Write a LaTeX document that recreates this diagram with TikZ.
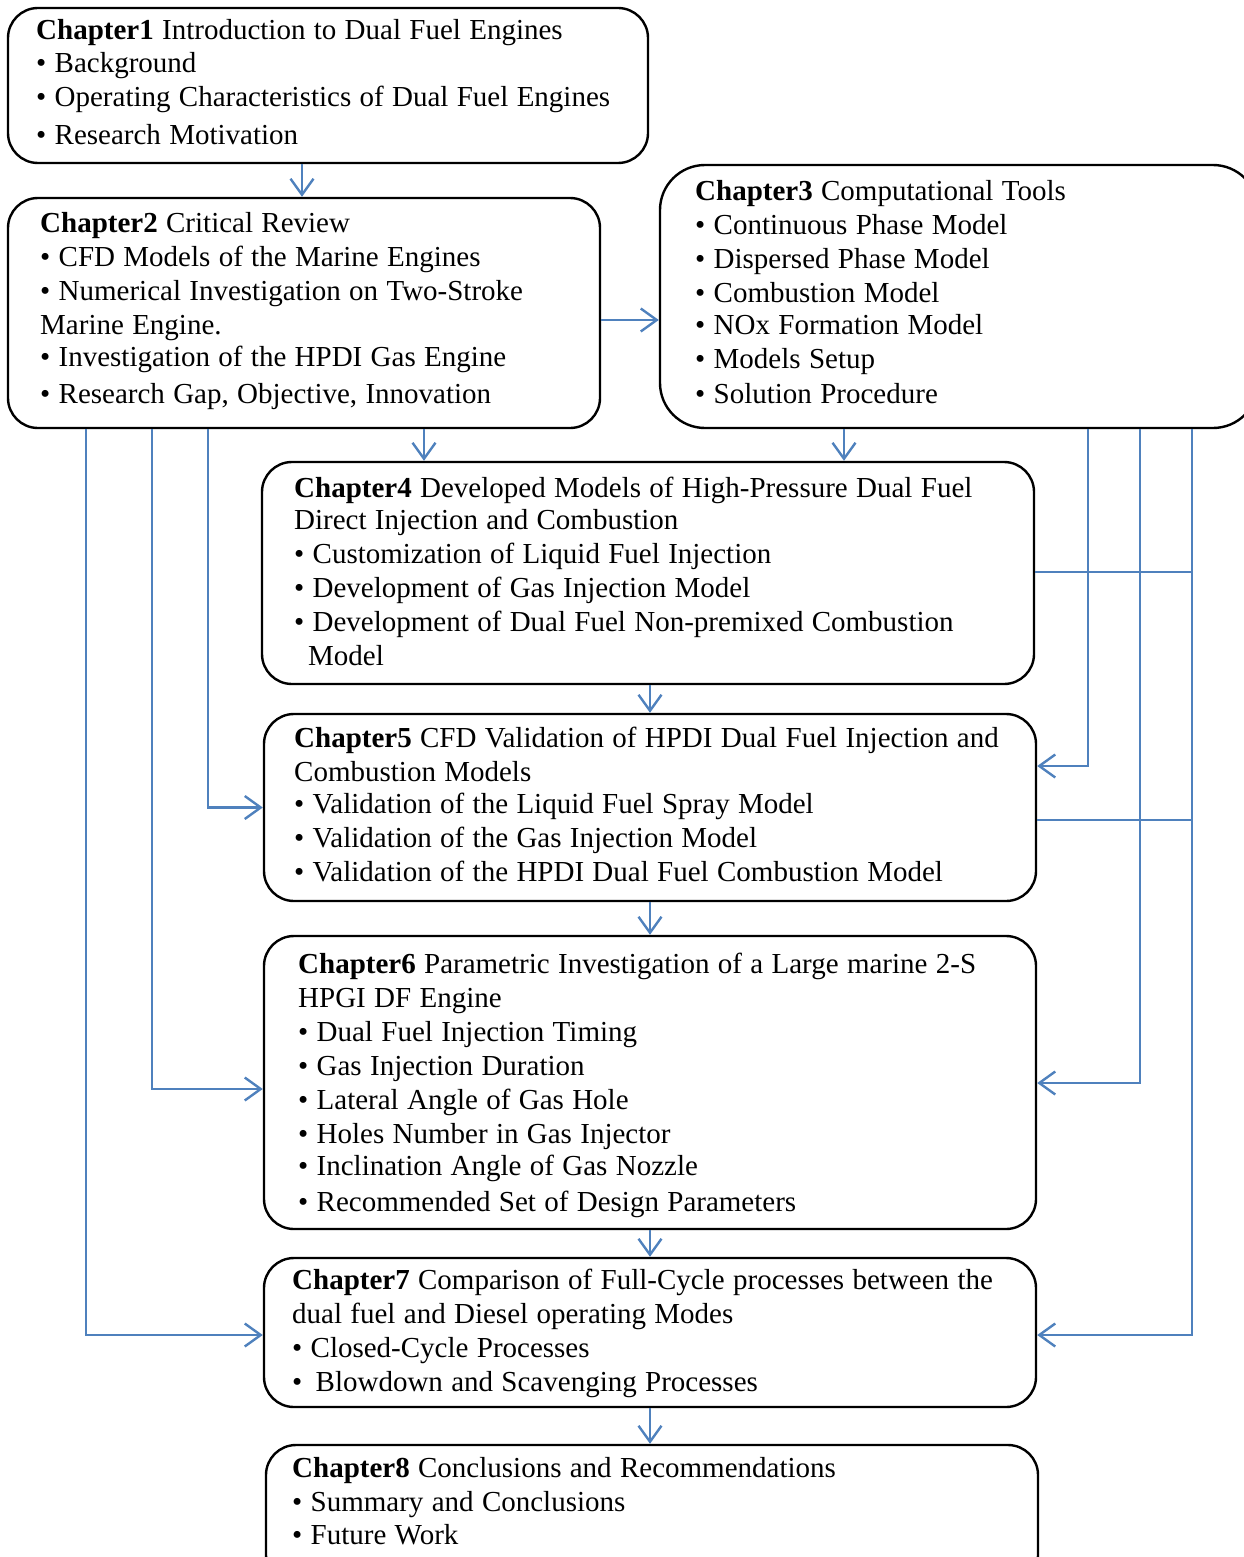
\documentclass[tikz,border=0pt]{standalone}
\usepackage{fontspec}
\setmainfont[WordSpace=1.15]{Liberation Serif}
\usetikzlibrary{arrows.meta}
\definecolor{lineblue}{RGB}{79,129,189}
\begin{document}
\begin{tikzpicture}[x=1pt,y=-1pt,
  box/.style={draw=black, line width=2.4pt, rounded corners=30pt, inner sep=0pt, rectangle},
  txt/.style={anchor=north west, inner sep=0pt, align=left, font=\fontsize{29}{34}\selectfont},
  conn/.style={draw=lineblue, line width=2.4pt},
  arr/.style={conn, -{Straight Barb[length=16pt,width=23pt]}},
]
\useasboundingbox (0,0) rectangle (1243,1557);

% boxes
\node[box, minimum width=640pt, minimum height=155pt] (c1) at (328,85.5) {};
\node[box, minimum width=592pt, minimum height=230pt] (c2) at (304,313) {};
\node[box, minimum width=598pt, minimum height=263pt, rounded corners=45pt] (c3) at (959,296.5) {};
\node[box, minimum width=772pt, minimum height=222pt] (c4) at (648,573) {};
\node[box, minimum width=772pt, minimum height=187pt] (c5) at (650,807.5) {};
\node[box, minimum width=772pt, minimum height=293pt] (c6) at (650,1082.5) {};
\node[box, minimum width=772pt, minimum height=149pt] (c7) at (650,1332.5) {};
\node[box, minimum width=772pt, minimum height=140pt] (c8) at (652,1515) {};

% texts
\node[txt] (t1) at (36,15.7) {\strut\textbf{Chapter1} Introduction to Dual Fuel Engines\\[-1pt]
• Background\\
• Operating Characteristics of Dual Fuel Engines\\[4pt]
• Research Motivation};

\node[txt] (t2) at (40,208.7) {\strut\textbf{Chapter2} Critical Review\\
• CFD Models of the Marine Engines\\
• Numerical Investigation on Two-Stroke\\
Marine Engine.\\[-2pt]
• Investigation of the HPDI Gas Engine\\[3pt]
• Research Gap, Objective, Innovation};

\node[txt] (t3) at (695,176.7) {\strut\textbf{Chapter3} Computational Tools\\
• Continuous Phase Model\\
• Dispersed Phase Model\\
• Combustion Model\\[-2pt]
• NOx Formation Model\\
• Models Setup\\[1pt]
• Solution Procedure};

\node[txt] (t4) at (294,473.7) {\strut\textbf{Chapter4} Developed Models of High-Pressure Dual Fuel\\[-2pt]
Direct Injection and Combustion\\
• Customization of Liquid Fuel Injection\\
• Development of Gas Injection Model\\
• Development of Dual Fuel Non-premixed Combustion\\
\hspace*{14pt}Model};

\node[txt] (t5) at (294,723.7) {\strut\textbf{Chapter5} CFD Validation of HPDI Dual Fuel Injection and\\
Combustion Models\\[-2pt]
• Validation of the Liquid Fuel Spray Model\\
• Validation of the Gas Injection Model\\
• Validation of the HPDI Dual Fuel Combustion Model};

\node[txt] (t6) at (298,949.7) {\strut\textbf{Chapter6} Parametric Investigation of a Large marine 2-S\\
HPGI DF Engine\\
• Dual Fuel Injection Timing\\
• Gas Injection Duration\\
• Lateral Angle of Gas Hole\\
• Holes Number in Gas Injector\\[-2pt]
• Inclination Angle of Gas Nozzle\\[2pt]
• Recommended Set of Design Parameters};

\node[txt] (t7) at (292,1265.7) {\strut\textbf{Chapter7} Comparison of Full-Cycle processes between the\\
dual fuel and Diesel operating Modes\\
• Closed-Cycle Processes\\
• \hspace{5pt}Blowdown and Scavenging Processes};

\node[txt] (t8) at (292,1453.7) {\strut\textbf{Chapter8} Conclusions and Recommendations\\
• Summary and Conclusions\\[-1pt]
• Future Work};

% helper coordinates
\coordinate (xa) at (302,0);
\coordinate (xb) at (424,0);
\coordinate (xc) at (844,0);
\coordinate (xm) at (650,0);
\coordinate (xl1) at (86,0);
\coordinate (xl2) at (152,0);
\coordinate (xl3) at (208,0);
\coordinate (xr1) at (1088,0);
\coordinate (xr2) at (1140,0);
\coordinate (xr3) at (1192,0);
\coordinate (ya) at (0,320);
\coordinate (y5r) at (0,766);
\coordinate (y6l) at (0,1089);
\coordinate (y6r) at (0,1083);
\coordinate (y7) at (0,1335);
\coordinate (y4h) at (0,572);
\coordinate (y5h) at (0,820);

% main flow
\draw[arr] (c1.south -| xa) -- (c2.north -| xa);
\draw[arr] (c2.east |- ya) -- (c3.west |- ya);
\draw[arr] (c2.south -| xb) -- (c4.north -| xb);
\draw[arr] (c3.south -| xc) -- (c4.north -| xc);
\draw[arr] (c4.south -| xm) -- (c5.north -| xm);
\draw[arr] (c5.south -| xm) -- (c6.north -| xm);
\draw[arr] (c6.south -| xm) -- (c7.north -| xm);
\draw[arr] (c7.south -| xm) -- (c8.north -| xm);

% left bus
\draw[arr] (c2.south -| xl1) |- (c7.west |- y7);
\draw[arr] (c2.south -| xl2) |- (c6.west |- y6l);
\draw[arr] (c2.south -| xl3) |- (c5.west);

% right bus
\draw[arr] (c3.south -| xr1) |- (c5.east |- y5r);
\draw[arr] (c3.south -| xr2) |- (c6.east |- y6r);
\draw[arr] (c3.south -| xr3) |- (c7.east |- y7);
\draw[conn] (c4.east |- y4h) -- (xr3 |- y4h);
\draw[conn] (c5.east |- y5h) -- (xr3 |- y5h);
\end{tikzpicture}
\end{document}
